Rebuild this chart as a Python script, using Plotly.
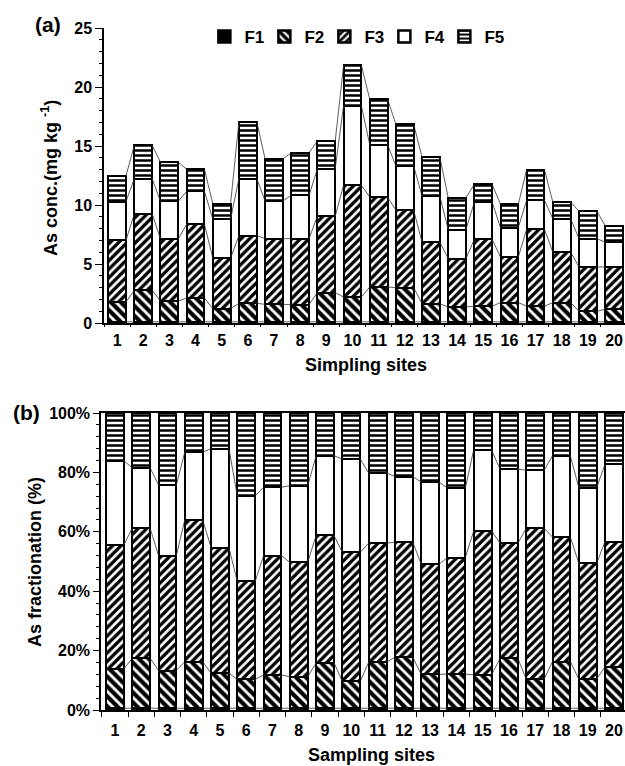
import plotly.graph_objects as go

# ---------------- data ----------------
sites = list(range(1, 21))
site_labels = [str(s) for s in sites]
fractions = ["F1", "F2", "F3", "F4", "F5"]

# (a) As concentration (mg kg-1) by fraction
conc_F1 = [0.10] * 20
conc_F2 = [1.68, 2.67, 1.76, 2.02, 1.12, 1.57, 1.48, 1.46, 2.48, 2.10,
           2.95, 2.90, 1.54, 1.26, 1.32, 1.63, 1.32, 1.63, 0.89, 1.06]
conc_F3 = [5.22, 6.50, 5.26, 6.24, 4.29, 5.74, 5.57, 5.59, 6.49, 9.47,
           7.63, 6.55, 5.22, 4.10, 5.67, 3.86, 6.52, 4.29, 3.76, 3.59]
conc_F4 = [3.29, 2.97, 3.19, 2.80, 3.30, 4.83, 3.19, 3.67, 4.01, 6.75,
           4.44, 3.76, 3.90, 2.46, 3.16, 2.49, 2.46, 2.83, 2.40, 2.11]
conc_F5 = [2.17, 2.82, 3.31, 1.87, 1.31, 4.83, 3.56, 3.62, 2.34, 3.42,
           3.86, 3.53, 3.31, 2.71, 1.50, 1.98, 2.60, 1.40, 2.34, 1.39]

# (b) As fractionation (%)
pct_F1 = [0.6] * 20
pct_F2 = [13.3, 16.8, 12.7, 15.7, 11.8, 9.7, 11.2, 10.6, 15.3, 9.0,
          15.5, 17.2, 11.4, 11.5, 11.2, 16.8, 9.8, 15.7, 9.8, 14.0]
pct_F3 = [41.7, 43.8, 38.7, 47.7, 42.3, 33.0, 40.2, 38.5, 42.9, 43.5,
          40.1, 38.7, 37.1, 39.2, 48.5, 38.8, 50.8, 41.9, 39.0, 42.1]
pct_F4 = [28.3, 20.3, 23.8, 22.8, 33.3, 28.8, 23.0, 25.8, 26.8, 31.4,
          23.6, 22.1, 27.6, 23.4, 27.3, 24.9, 19.5, 27.4, 25.5, 26.1]
pct_F5 = [16.1, 18.5, 24.2, 13.2, 12.0, 27.9, 25.0, 24.5, 14.4, 15.5,
          20.2, 21.4, 23.3, 25.3, 12.4, 18.9, 19.3, 14.4, 25.1, 17.2]

conc = [conc_F1, conc_F2, conc_F3, conc_F4, conc_F5]
pct = [pct_F1, pct_F2, pct_F3, pct_F4, pct_F5]

# ---------------- styles ----------------
BAR_W = 0.68
FONT = "Liberation Sans, Arial, Helvetica, sans-serif"


def marker_for(name):
    base = dict(line=dict(color="black", width=2.5))
    if name == "F1":
        base["color"] = "black"
    elif name == "F2":
        base["color"] = "white"
        base["pattern"] = dict(shape="\\", fgcolor="black", bgcolor="white",
                               size=7, solidity=0.6, fgopacity=1)
    elif name == "F3":
        base["color"] = "white"
        base["pattern"] = dict(shape="/", fgcolor="black", bgcolor="white",
                               size=6, solidity=0.55, fgopacity=1)
    elif name == "F4":
        base["color"] = "white"
    else:
        base["color"] = "white"
        base["pattern"] = dict(shape="-", fgcolor="black", bgcolor="white",
                               size=5, solidity=0.5, fgopacity=1)
    return base


fig = go.Figure()

for name, vals in zip(fractions, conc):
    fig.add_trace(go.Bar(x=sites, y=vals, name=name, width=BAR_W,
                         marker=marker_for(name), xaxis="x", yaxis="y",
                         legendgroup=name, showlegend=True))
for name, vals in zip(fractions, pct):
    fig.add_trace(go.Bar(x=sites, y=vals, name=name, width=BAR_W,
                         marker=marker_for(name), xaxis="x2", yaxis="y2",
                         legendgroup=name, showlegend=False))


def connectors(series_list, xa, ya):
    cum = [0.0] * len(sites)
    for vals in series_list:
        cum = [c + v for c, v in zip(cum, vals)]
        xs, ys = [], []
        for i in range(len(sites) - 1):
            xs += [sites[i] + BAR_W / 2, sites[i + 1] - BAR_W / 2, None]
            ys += [cum[i], cum[i + 1], None]
        fig.add_trace(go.Scatter(x=xs, y=ys, mode="lines", xaxis=xa, yaxis=ya,
                                 line=dict(color="#333333", width=0.8),
                                 showlegend=False, hoverinfo="skip"))


connectors(conc, "x", "y")
connectors(pct[:-1], "x2", "y2")

W, H = 625, 766
tickfont = dict(family=FONT, size=16, color="black", weight="bold")
boundaries = [s + 0.5 for s in [0] + sites]

fig.update_layout(
    width=W, height=H, margin=dict(l=0, r=0, t=0, b=0, autoexpand=False),
    paper_bgcolor="white", plot_bgcolor="white",
    barmode="stack", bargap=0,
    font=dict(family=FONT, color="black"),
    legend=dict(orientation="h", x=0.327, y=1 - 37 / H, xanchor="left", yanchor="middle",
                font=dict(family=FONT, size=17, color="black", weight="bold"),
                entrywidth=15, entrywidthmode="pixels", bgcolor="rgba(0,0,0,0)",
                traceorder="normal", itemwidth=30),
    xaxis=dict(domain=[104 / W, 1.0], range=[0.5, 20.42], anchor="y",
               tickmode="array", tickvals=sites, ticktext=site_labels,
               ticks="outside", ticklen=2, tickcolor="rgba(0,0,0,0)",
               minor=dict(tickmode="array", tickvals=boundaries, ticks="outside",
                          ticklen=2, tickcolor="black", tickwidth=1),
               showline=True, linecolor="black", linewidth=1.5,
               showgrid=False, zeroline=False, tickfont=tickfont),
    yaxis=dict(domain=[1 - 323 / H, 1 - 28 / H], range=[0, 25], anchor="x",
               tickmode="linear", tick0=0, dtick=5,
               ticks="outside", ticklen=7, tickcolor="black", tickwidth=1,
               minor=dict(dtick=1, ticks="outside", ticklen=3, tickcolor="black", tickwidth=1),
               showline=True, linecolor="black", linewidth=1.5,
               showgrid=False, zeroline=False, tickfont=tickfont),
    xaxis2=dict(domain=[101 / W, 1.0], range=[0.47, 20.42], anchor="y2",
                tickmode="array", tickvals=sites, ticktext=site_labels,
                ticks="outside", ticklen=5, tickcolor="rgba(0,0,0,0)",
                minor=dict(tickmode="array", tickvals=boundaries, ticks="outside",
                           ticklen=5, tickcolor="black", tickwidth=1),
                showline=True, mirror=True, linecolor="black", linewidth=1.5,
                showgrid=False, zeroline=False, tickfont=tickfont),
    yaxis2=dict(domain=[1 - 710 / H, 1 - 413 / H], range=[0, 100], anchor="x2",
                tickmode="linear", tick0=0, dtick=20, ticksuffix="%",
                ticks="outside", ticklen=6, tickcolor="black", tickwidth=1,
                minor=dict(dtick=4, ticks="outside", ticklen=3, tickcolor="black", tickwidth=1),
                showline=True, linecolor="black", linewidth=1.5,
                showgrid=False, zeroline=False, tickfont=tickfont),
)

ann_font = dict(family=FONT, size=18, color="black", weight="bold")


def ann(text, xpx, ypx, font, angle=0):
    fig.add_annotation(text=text, x=xpx / W, y=1 - ypx / H, xref="paper", yref="paper",
                       xanchor="center", yanchor="middle", textangle=angle,
                       showarrow=False, font=font)


big = dict(family=FONT, size=21, color="black", weight="bold")
ann("(a)", 48, 25, big)
ann("(b)", 26, 412, big)
ann("As conc.(mg kg <sup>-1</sup>)", 50, 178, ann_font, -90)
ann("As fractionation (%)", 35, 562, ann_font, -90)
ann("Simpling sites", 366, 365, ann_font)
ann("Sampling sites", 371, 755, ann_font)

fig.write_html("out.html")
